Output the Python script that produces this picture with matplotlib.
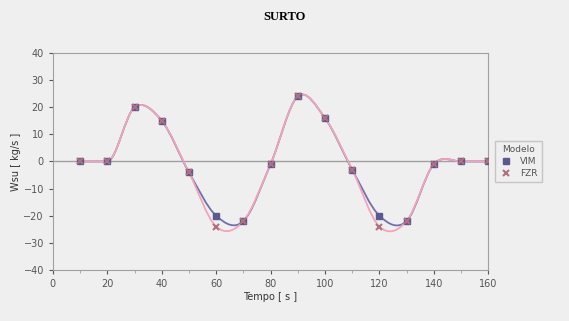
import numpy as np
import matplotlib
matplotlib.use('Agg')
import matplotlib.pyplot as plt
from matplotlib.path import Path
from matplotlib.patches import PathPatch

# Data
tempo = [10, 20, 30, 40, 50, 60, 70, 80, 90, 100, 110, 120, 130, 140, 150, 160]
vim = [0, 0, 20, 15, -4, -20, -22, -1, 24, 16, -3, -20, -22, -1, 0, 0]
fzr = [0, 0, 20, 15, -4, -24, -22, -1, 24, 16, -3, -24, -22, -1, 0, 0]


def smooth_path(x, y):
    # Excel style smoothed line drawn as cubic Bezier segments
    x = np.asarray(x, float)
    y = np.asarray(y, float)
    n = len(x)
    slope = np.zeros(n)
    for i in range(n):
        i0 = max(i - 1, 0)
        i1 = min(i + 1, n - 1)
        flat = (i > 0 and y[i] == y[i - 1]) or (i < n - 1 and y[i] == y[i + 1])
        if not flat:
            slope[i] = (y[i1] - y[i0]) / (x[i1] - x[i0])
    verts = [(x[0], y[0])]
    codes = [Path.MOVETO]
    for i in range(n - 1):
        h = (x[i + 1] - x[i]) / 3
        verts += [(x[i] + h, y[i] + slope[i] * h),
                  (x[i + 1] - h, y[i + 1] - slope[i + 1] * h),
                  (x[i + 1], y[i + 1])]
        codes += [Path.CURVE4] * 3
    return Path(verts, codes)


bg = '#efefef'
fig = plt.figure(figsize=(5.69, 3.21), dpi=100, facecolor=bg)
ax = fig.add_axes([0.093, 0.159, 0.765, 0.676], facecolor=bg)

ax.axhline(0, color='#a0a0a0', lw=1, zorder=1)

ax.add_patch(PathPatch(smooth_path(tempo, vim), fill=False, ec='#7070b0', lw=1.3, zorder=2))
ax.add_patch(PathPatch(smooth_path(tempo, fzr), fill=False, ec='#f2a4b8', lw=1.3, zorder=3))
ax.plot(tempo, vim, ls='none', marker='s', ms=4, color='#5a5a90', label='VIM', zorder=4)
ax.plot(tempo, fzr, ls='none', marker='x', ms=4, mew=1.5, color='#b07080', label='FZR', zorder=5)

ax.set_xlim(0, 160)
ax.set_ylim(-40, 40)
ax.set_xticks(range(0, 161, 20))
ax.set_yticks(range(-40, 41, 10))
ax.set_xticks(range(0, 161, 10), minor=True)

for s in ['left', 'bottom', 'top', 'right']:
    ax.spines[s].set_color('#a0a0a0')
ax.tick_params(labelsize=7, colors='#555555', length=3, width=0.8)
ax.tick_params(which='minor', length=2, color='#a0a0a0')

ax.set_xlabel('Tempo [ s ]', fontsize=7, color='#333333', labelpad=2)
ax.set_ylabel('Wsu [ kg/s ]', fontsize=7, color='#333333', labelpad=2)

fig.text(0.5, 0.947, 'SURTO', ha='center', va='center', fontsize=9,
         fontweight='bold', family='Liberation Serif')

leg = ax.legend(title='Modelo', loc='center left', bbox_to_anchor=(1.005, 0.5),
                fontsize=6.5, title_fontsize=6.5, frameon=True, fancybox=False,
                handlelength=1.5, borderpad=0.5, labelspacing=0.3)
leg.get_frame().set_edgecolor('#bbbbbb')
leg.get_frame().set_facecolor(bg)
for t in leg.get_texts():
    t.set_color('#555555')
leg.get_title().set_color('#555555')

fig.savefig('out.png', dpi=100, facecolor=bg)
